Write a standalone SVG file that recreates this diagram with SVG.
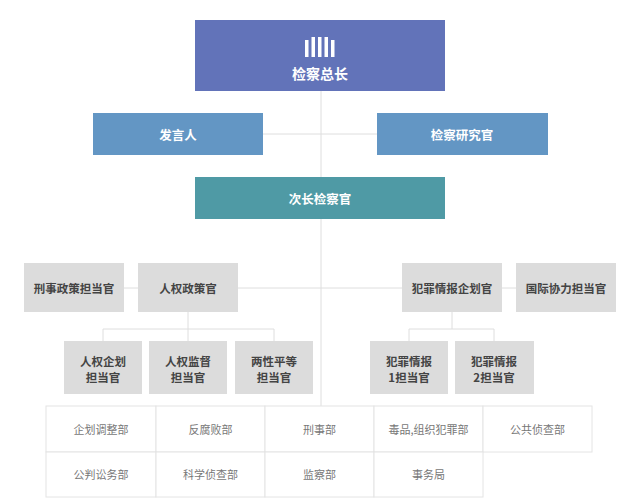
<svg xmlns="http://www.w3.org/2000/svg" width="640" height="503" viewBox="0 0 640 503">
<style>
.t{font-family:"Noto Sans CJK SC","Liberation Sans",sans-serif;text-anchor:middle;dominant-baseline:central}
.w{fill:#ffffff;font-weight:bold}
.g{fill:#dcdcdc}
.gt{fill:#444444;font-size:11.5px;font-weight:bold}
.ct{fill:#777777;font-size:11px}
.ln{stroke:#dedede;stroke-width:1;fill:none}
.cell{fill:#ffffff;stroke:#e4e4e4;stroke-width:1}
</style>
<rect width="640" height="503" fill="#ffffff"/>
<g id="connectors" class="ln">
<path d="M321 91V406"/>
<path d="M263 134H377"/>
<path d="M124 288H138M238 288H402M502 288H516"/>
<path d="M188 312V329M103 329H274M103 329V341M274 329V341M188 329V341"/>
<path d="M452 312V329M409 329H494M409 329V341M494 329V341"/>
</g>
<g id="n-chief">
<rect x="195" y="20" width="250" height="71" fill="#6273b9"/>
<g fill="#ffffff">
<rect x="305" y="40" width="3.5" height="17"/>
<rect x="311.5" y="37" width="3.5" height="20"/>
<rect x="318" y="37" width="3.5" height="20"/>
<rect x="324.5" y="37" width="3.5" height="20"/>
<rect x="331" y="40" width="3.5" height="17"/>
</g>
<text class="t w" x="320" y="73" font-size="14">检察总长</text>
</g>
<g id="n-spokesman">
<rect x="93" y="113" width="170" height="42" fill="#6396c4"/>
<text class="t w" x="178" y="134" font-size="12.5">发言人</text>
</g>
<g id="n-research">
<rect x="377" y="113" width="171" height="42" fill="#6396c4"/>
<text class="t w" x="462" y="134" font-size="12.5">检察研究官</text>
</g>
<g id="n-deputy">
<rect x="195" y="177" width="250" height="42" fill="#4f9aa5"/>
<text class="t w" x="320" y="198" font-size="12.5">次长检察官</text>
</g>
<g id="n-criminal-policy">
<rect class="g" x="24" y="263" width="100" height="49"/>
<text class="t gt" x="74" y="288">刑事政策担当官</text>
</g>
<g id="n-human-rights">
<rect class="g" x="138" y="263" width="100" height="49"/>
<text class="t gt" x="188" y="288">人权政策官</text>
</g>
<g id="n-crime-intel">
<rect class="g" x="402" y="263" width="100" height="49"/>
<text class="t gt" x="452" y="288">犯罪情报企划官</text>
</g>
<g id="n-intl">
<rect class="g" x="516" y="263" width="100" height="49"/>
<text class="t gt" x="566" y="288">国际协力担当官</text>
</g>
<g id="n-hr-plan">
<rect class="g" x="64" y="341" width="78" height="53"/>
<text class="t gt" x="103" y="361">人权企划</text>
<text class="t gt" x="103" y="377">担当官</text>
</g>
<g id="n-hr-monitor">
<rect class="g" x="149" y="341" width="78" height="53"/>
<text class="t gt" x="188" y="361">人权监督</text>
<text class="t gt" x="188" y="377">担当官</text>
</g>
<g id="n-gender">
<rect class="g" x="235" y="341" width="78" height="53"/>
<text class="t gt" x="274" y="361">两性平等</text>
<text class="t gt" x="274" y="377">担当官</text>
</g>
<g id="n-intel1">
<rect class="g" x="370" y="341" width="78" height="53"/>
<text class="t gt" x="409" y="361">犯罪情报</text>
<text class="t gt" x="409" y="377">1担当官</text>
</g>
<g id="n-intel2">
<rect class="g" x="455" y="341" width="79" height="53"/>
<text class="t gt" x="494" y="361">犯罪情报</text>
<text class="t gt" x="494" y="377">2担当官</text>
</g>
<g id="n-dept-planning"><rect class="cell" x="46" y="406" width="110" height="46"/><text class="t ct" x="101" y="429">企划调整部</text></g>
<g id="n-dept-anticorruption"><rect class="cell" x="156" y="406" width="109" height="46"/><text class="t ct" x="210.5" y="429">反腐败部</text></g>
<g id="n-dept-criminal"><rect class="cell" x="265" y="406" width="109" height="46"/><text class="t ct" x="319.5" y="429">刑事部</text></g>
<g id="n-dept-drugs"><rect class="cell" x="374" y="406" width="109" height="46"/><text class="t ct" x="428.5" y="429">毒品,组织犯罪部</text></g>
<g id="n-dept-public"><rect class="cell" x="483" y="406" width="109" height="46"/><text class="t ct" x="537.5" y="429">公共侦查部</text></g>
<g id="n-dept-trial"><rect class="cell" x="46" y="452" width="110" height="45"/><text class="t ct" x="101" y="474">公判讼务部</text></g>
<g id="n-dept-science"><rect class="cell" x="156" y="452" width="109" height="45"/><text class="t ct" x="210.5" y="474">科学侦查部</text></g>
<g id="n-dept-inspection"><rect class="cell" x="265" y="452" width="109" height="45"/><text class="t ct" x="319.5" y="474">监察部</text></g>
<g id="n-dept-affairs"><rect class="cell" x="374" y="452" width="109" height="45"/><text class="t ct" x="428.5" y="474">事务局</text></g>
</svg>
